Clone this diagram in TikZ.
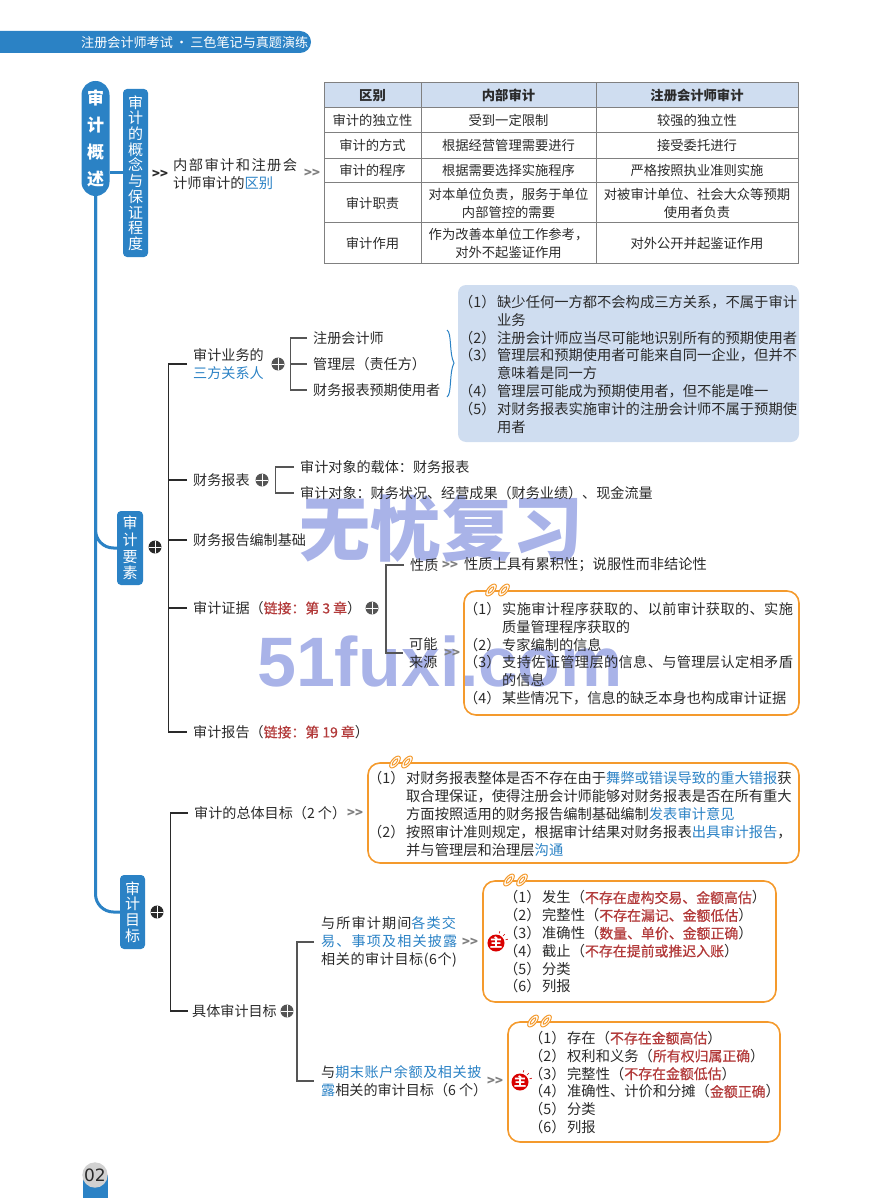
\documentclass[tikz,border=0pt]{standalone}
\usepackage{fontspec}
\setmainfont{Noto Sans CJK SC}
\newfontfamily\latinwm{Liberation Sans}
\newfontfamily\pagefont{DejaVu Sans}
\newfontfamily\redfont[FakeBold=0.7]{Noto Sans CJK SC}
\newfontfamily\widea[LetterSpace=8]{Noto Sans CJK SC}
\newfontfamily\wideb[LetterSpace=9.7]{Noto Sans CJK SC}
\newfontfamily\widec[LetterSpace=4]{Noto Sans CJK SC}
\newfontfamily\wided[LetterSpace=2.5]{Noto Sans CJK SC}
\definecolor{mainblue}{HTML}{2B82C5}
\definecolor{paleblue}{HTML}{CFDDF0}
\definecolor{wmblue}{HTML}{A9B3E8}
\definecolor{boxorange}{HTML}{F49A2D}
\definecolor{inkred}{HTML}{B23A3A}
\definecolor{gridgrey}{HTML}{808080}
\definecolor{twiggrey}{HTML}{555555}
\definecolor{ink}{HTML}{2A2A2A}
\newcommand{\bl}[1]{\textcolor{mainblue}{#1}}
\newcommand{\hl}[1]{\textcolor{inkred}{\redfont\fontsize{13.9}{17.8}\selectfont #1}}
\newcommand{\itm}[2]{\makebox[38pt][l]{（#1）}#2}
\newcommand{\cnt}[1]{\hspace*{38pt}#1}
\newcommand{\clipmark}[2]{
  \draw [boxorange, fill=white, line width=1pt, rotate around={50:(#1,#2)}] (#1,#2) ellipse (7.2 and 3.5);
  \draw [boxorange, line width=1pt, rotate around={50:(#1,#2)}] (#1,#2) ellipse (4 and 1.5);
}
\newcommand{\sparks}[1]{
  \draw [red!80!black, line width=0.6pt] (#1) ++(-18:10) -- ++(-18:2.5);
  \draw [red!80!black, line width=0.6pt] (#1) ++(-45:10) -- ++(-45:2.5);
  \draw [red!80!black, line width=0.6pt] (#1) ++(-72:10) -- ++(-72:2.5);
}
\tikzset{
  vbox/.style={fill=mainblue, text=white, align=center, inner sep=0pt, rounded corners=4pt},
  cell/.style={draw=gridgrey, line width=1pt, align=center, inner sep=0pt, font=\fontsize{13.3}{18}\selectfont, text=ink},
  leaf/.style={anchor=west, align=left, inner ysep=0pt, inner xsep=6pt, font=\fontsize{14.1}{17.8}\selectfont, text=ink},
  body/.style={anchor=west, align=left, inner sep=0pt, font=\fontsize{14.28}{17.8}\selectfont, text=ink},
  tree/.style={draw=ink, line width=1.7pt},
  twig/.style={draw=twiggrey, line width=1.4pt},
  trunk/.style={draw=mainblue, line width=3pt},
  orangebox/.style={draw=boxorange, line width=1.6pt, rounded corners=12pt, inner sep=0pt},
  chev/.style={font=\fontsize{13}{13}\selectfont\bfseries, inner sep=0pt, text=gridgrey},
  grom/.style={circle, fill=#1, minimum size=13pt, inner sep=0pt, path picture={
    \draw [white, line width=1pt] (path picture bounding box.north) -- (path picture bounding box.south)
      (path picture bounding box.west) -- (path picture bounding box.east);}},
  zhu/.style={circle, fill=red!85!black, text=white, minimum size=17pt, inner sep=0pt, font=\fontsize{12.5}{12.5}\selectfont\bfseries},
}
\begin{document}
\begin{tikzpicture}[x=1pt, y=-1pt]
  \useasboundingbox (0,0) rectangle (880,1198);
  \node [text=wmblue, inner sep=0pt, font=\fontsize{71}{71}\selectfont\bfseries] (wmcn) at (441,529) {无忧复习};
  \node [text=wmblue, inner sep=0pt, font=\latinwm\fontsize{70}{70}\selectfont\bfseries] (wmen) at (440,661) {51fuxi.com};

  \fill [mainblue, rounded corners=11pt] (-20,31) rectangle (311,53);
  \node [text=white, anchor=west, inner sep=0pt, font=\fontsize{13.1}{13.1}\selectfont] (head) at (81,42.5) {注册会计师考试\,·\,三色笔记与真题演练};

  \node [vbox, rounded corners=14pt, minimum width=28pt, minimum height=115pt, font=\fontsize{17}{27}\selectfont\bfseries] (gaishu) at (95.5,138.5) {审\\计\\概\\述};
  \node [vbox, minimum width=25pt, minimum height=168pt, font=\fontsize{15}{15.7}\selectfont] (concept) at (135.5,173) {审\\计\\的\\概\\念\\与\\保\\证\\程\\度};
  \draw [trunk] (concept.west) -- (gaishu.east |- concept.west);
  \node [chev, text=ink] (chA) at (160,174) {>{}>};
  \node [body] (neibu) at (173,174) {{\wideb 内部审计和注册会}\\计师审计的\bl{区别}};
  \node [chev] (chB) at (312,173) {>{}>};

  \node [cell, fill=paleblue, minimum width=97pt, minimum height=25pt, font=\fontsize{13.3}{18}\selectfont\bfseries] (qubie) at (372.5,95.5) {区别};
  \node [cell, fill=paleblue, minimum width=175pt, minimum height=25pt, font=\fontsize{13.3}{18}\selectfont\bfseries] (neishen) at (508.5,95.5) {内部审计};
  \node [cell, fill=paleblue, minimum width=202pt, minimum height=25pt, font=\fontsize{13.3}{18}\selectfont\bfseries] (zhushen) at (697,95.5) {注册会计师审计};
  \node [cell, minimum width=97pt, minimum height=25pt] (dlA) at (372.5,120.5) {审计的独立性};
  \node [cell, minimum width=175pt, minimum height=25pt] (dlB) at (508.5,120.5) {受到一定限制};
  \node [cell, minimum width=202pt, minimum height=25pt] (dlC) at (697,120.5) {较强的独立性};
  \node [cell, minimum width=97pt, minimum height=25.5pt] (fsA) at (372.5,145.75) {审计的方式};
  \node [cell, minimum width=175pt, minimum height=25.5pt] (fsB) at (508.5,145.75) {根据经营管理需要进行};
  \node [cell, minimum width=202pt, minimum height=25.5pt] (fsC) at (697,145.75) {接受委托进行};
  \node [cell, minimum width=97pt, minimum height=24.5pt] (cxA) at (372.5,170.75) {审计的程序};
  \node [cell, minimum width=175pt, minimum height=24.5pt] (cxB) at (508.5,170.75) {根据需要选择实施程序};
  \node [cell, minimum width=202pt, minimum height=24.5pt] (cxC) at (697,170.75) {严格按照执业准则实施};
  \node [cell, minimum width=97pt, minimum height=40pt] (zzA) at (372.5,203) {审计职责};
  \node [cell, minimum width=175pt, minimum height=40pt] (zzB) at (508.5,203) {对本单位负责，服务于单位\\内部管控的需要};
  \node [cell, minimum width=202pt, minimum height=40pt] (zzC) at (697,203) {对被审计单位、社会大众等预期\\使用者负责};
  \node [cell, minimum width=97pt, minimum height=40pt] (zyA) at (372.5,243) {审计作用};
  \node [cell, minimum width=175pt, minimum height=40pt] (zyB) at (508.5,243) {作为改善本单位工作参考，\\对外不起鉴证作用};
  \node [cell, minimum width=202pt, minimum height=40pt] (zyC) at (697,243) {对外公开并起鉴证作用};

  \node [vbox, minimum width=26pt, minimum height=74pt, font=\fontsize{15}{16.6}\selectfont] (yaosu) at (130,548) {审\\计\\要\\素};
  \node [vbox, minimum width=25pt, minimum height=74pt, font=\fontsize{15}{15.7}\selectfont] (mubiao) at (132.5,912) {审\\计\\目\\标};
  \draw [trunk, rounded corners=18pt] (gaishu.south) |- (yaosu.west);
  \draw [trunk, rounded corners=18pt] (gaishu.south) |- (mubiao.west);
  \node [grom=ink] (gmYs) at (155,547) {};
  \node [grom=ink] (gmMb) at (157,912) {};

  \coordinate (trA) at (168.5,548);
  \node [leaf] (sanfang) at (187,364) {审计业务的\\\bl{三方关系人}};
  \node [leaf] (baobiao) at (187,480) {财务报表};
  \node [leaf] (jichu) at (187,540) {财务报告编制基础};
  \node [leaf] (zhengju) at (187,608) {审计证据（\hl{链接：第 3 章}）};
  \node [leaf] (baogao) at (187,732) {审计报告（\hl{链接：第 19 章}）};
  \draw [tree] (sanfang.west) -| (trA) |- (baogao.west);
  \draw [tree] (baobiao.west) -- (trA |- baobiao.west);
  \draw [tree] (jichu.west) -- (trA |- jichu.west);
  \draw [tree] (zhengju.west) -- (trA |- zhengju.west);

  \node [grom=twiggrey] (gmA) at (278,364) {};
  \coordinate (brA) at (290.5,364);
  \node [leaf] (zckj) at (307,338) {注册会计师};
  \node [leaf] (gll) at (307,364) {管理层（责任方）};
  \node [leaf] (syz) at (307,390) {财务报表预期使用者};
  \draw [twig] (zckj.west) -| (brA) |- (syz.west);
  \draw [twig] (brA) -- (gll.west);
  \draw [mainblue, line width=1pt] (447,330) .. controls (452,333) and (449,354) .. (454,363) .. controls (449,372) and (452,394) .. (447,397);
  \node [fill=paleblue, rounded corners=8pt, minimum width=341pt, minimum height=157pt, inner sep=0pt] (pale) at (628.5,363.5) {};
  \node [body] (paletxt) at (459,364.2) {\itm{1}{缺少任何一方都不会构成三方关系，不属于审计}\\\cnt{业务}\\\itm{2}{注册会计师应当尽可能地识别所有的预期使用者}\\\itm{3}{管理层和预期使用者可能来自同一企业，但并不}\\\cnt{意味着是同一方}\\\itm{4}{管理层可能成为预期使用者，但不能是唯一}\\\itm{5}{对财务报表实施审计的注册会计师不属于预期使}\\\cnt{用者}};

  \node [grom=twiggrey] (gmB) at (262,480) {};
  \coordinate (brB) at (275.5,480);
  \node [leaf] (zaiti) at (294,467) {审计对象的载体：财务报表};
  \node [leaf] (duixiang) at (294,493) {审计对象：财务状况、经营成果（财务业绩）、现金流量};
  \draw [twig] (zaiti.west) -| (brB) |- (duixiang.west);

  \node [grom=twiggrey] (gmC) at (372,608) {};
  \coordinate (brC) at (386,608);
  \node [leaf] (xingzhi) at (404,565) {性质};
  \node [leaf] (laiyuan) at (403,653) {可能\\来源};
  \draw [twig] (xingzhi.west) -| (brC) |- (laiyuan.west);
  \node [chev] (chC) at (450,565) {>{}>};
  \node [body] (xzdetail) at (464,565) {性质上具有累积性；说服性而非结论性};
  \node [chev] (chD) at (452,653) {>{}>};
  \node [orangebox, minimum width=335pt, minimum height=124pt] (lybox) at (631.5,653) {};
  \clipmark{491}{590}
  \clipmark{504}{590}
  \node [body, font=\fontsize{14.2}{17.8}\selectfont] (lytxt) at (464,653.7) {\itm{1}{\wided 实施审计程序获取的、以前审计获取的、实施}\\\cnt{质量管理程序获取的}\\\itm{2}{专家编制的信息}\\\itm{3}{\wided 支持佐证管理层的信息、与管理层认定相矛盾}\\\cnt{的信息}\\\itm{4}{某些情况下，信息的缺乏本身也构成审计证据}};

  \coordinate (trB) at (170.5,912);
  \node [leaf] (zongti) at (188,813) {审计的总体目标（2 个）};
  \node [leaf, inner xsep=4pt] (juti) at (188,1011) {具体审计目标};
  \draw [tree] (zongti.west) -| (trB) |- (juti.west);
  \node [chev] (chE) at (355,813) {>{}>};
  \node [orangebox, minimum width=431pt, minimum height=100pt] (ztbox) at (583.5,813) {};
  \clipmark{395}{762}
  \clipmark{407}{762}
  \node [body] (zttxt) at (368,814) {\itm{1}{对财务报表整体是否不存在由于\bl{舞弊或错误导致的重大错报}获}\\\cnt{取合理保证，使得注册会计师能够对财务报表是否在所有重大}\\\cnt{方面按照适用的财务报告编制基础编制\bl{发表审计意见}}\\\itm{2}{按照审计准则规定，根据审计结果对财务报表\bl{出具审计报告}，}\\\cnt{并与管理层和治理层\bl{沟通}}};

  \node [grom=twiggrey] (gmD) at (287,1011) {};
  \coordinate (brD) at (297,1011);
  \node [leaf, inner xsep=7pt] (jlei) at (314,942) {{\widea 与所审计期间\bl{各类交}}\\{\widea\bl{易、事项及相关披露}}\\{\widec 相关的审计目标(6个)}};
  \node [leaf, inner xsep=7pt] (jye) at (314,1081) {{\widec 与\bl{期末账户余额及相关披}}\\\bl{露}相关的审计目标（6 个）};
  \draw [twig] (jlei.west) -| (brD) |- (jye.west);
  \node [chev] (chF) at (470,942) {>{}>};
  \node [chev] (chG) at (495,1081) {>{}>};

  \node [orangebox, minimum width=293pt, minimum height=121pt] (jlbox) at (629.5,941.5) {};
  \clipmark{509}{880}
  \clipmark{522}{880}
  \node [zhu] (zhuA) at (496,943) {主};
  \sparks{zhuA}
  \node [body] (jltxt) at (504,942) {\itm{1}{发生（\hl{不存在虚构交易、金额高估}）}\\\itm{2}{完整性（\hl{不存在漏记、金额低估}）}\\\itm{3}{准确性（\hl{数量、单价、金额正确}）}\\\itm{4}{截止（\hl{不存在提前或推迟入账}）}\\\itm{5}{分类}\\\itm{6}{列报}};

  \node [orangebox, minimum width=272pt, minimum height=120pt] (yebox) at (644,1082) {};
  \clipmark{533}{1021}
  \clipmark{546}{1021}
  \node [zhu] (zhuB) at (520,1082) {主};
  \sparks{zhuB}
  \node [body] (yetxt) at (529,1082.5) {\itm{1}{存在（\hl{不存在金额高估}）}\\\itm{2}{权利和义务（\hl{所有权归属正确}）}\\\itm{3}{完整性（\hl{不存在金额低估}）}\\\itm{4}{准确性、计价和分摊（\hl{金额正确}）}\\\itm{5}{分类}\\\itm{6}{列报}};

  \fill [mainblue] (82.5,1175) rectangle (108,1198);
  \node [circle, fill=black!18, minimum size=25.4pt, inner sep=0pt, text=ink, font=\pagefont\fontsize{17}{17}\selectfont] (page) at (95,1175) {02};
\end{tikzpicture}
\end{document}
